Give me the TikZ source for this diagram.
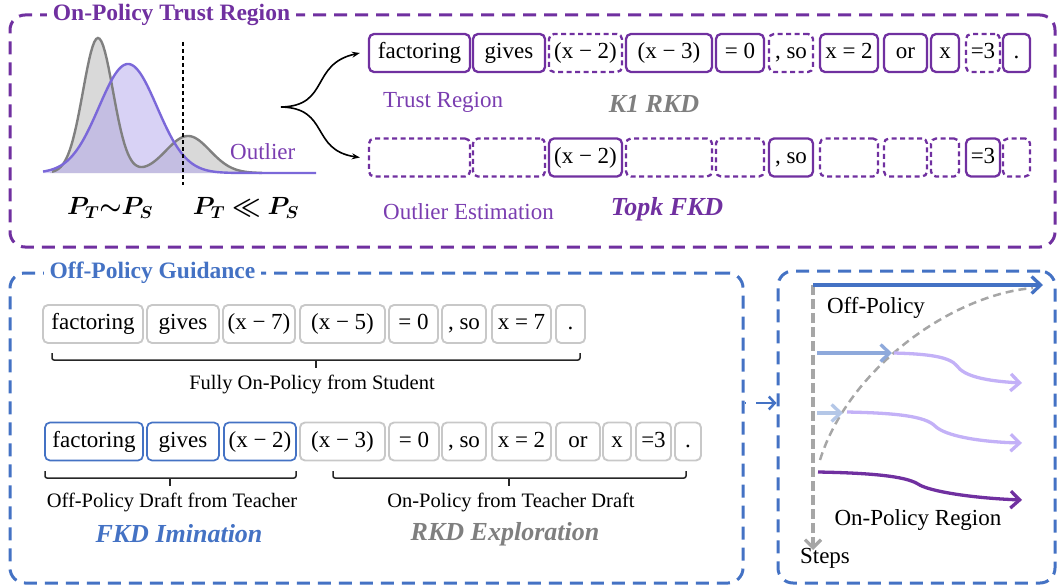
\documentclass[tikz,border=0pt]{standalone}
\usepackage{amsmath,bm}
\usepackage{fontspec}
\setmainfont{Liberation Serif}
\usetikzlibrary{arrows.meta}
\definecolor{pur}{HTML}{7030A0}
\definecolor{purtxt}{HTML}{7A3DB0}
\definecolor{blu}{HTML}{4472C4}
\definecolor{gbox}{HTML}{C8C8C8}
\definecolor{gtxt}{HTML}{7F7F7F}
\definecolor{curvep}{HTML}{7B68D9}
\definecolor{lblue}{HTML}{8EA9DB}
\definecolor{llblue}{HTML}{B4C7E7}
\definecolor{lpur}{HTML}{C3B1F7}
\definecolor{gfillc}{HTML}{D9D9D9}
\definecolor{pfillc}{HTML}{B1A5EB}
\definecolor{curveg}{HTML}{808080}
\newcommand{\tokfont}{\fontsize{23}{26}\selectfont}
\newcommand{\capfont}{\fontsize{20.5}{24}\selectfont}
\newcommand{\labfont}{\fontsize{23}{26}\selectfont}
\newcommand{\titfont}{\fontsize{23.5}{27}\selectfont\bfseries}
\newcommand{\bifont}{\fontsize{26}{30}\selectfont\bfseries\itshape}
\newcommand{\tk}[6]{\node[#5, minimum width={(#2-#1)*1pt}] (#6) at ({(#1+#2)/2},#3) {#4};}
\tikzset{
  tokbase/.style={rectangle, rounded corners=5pt, inner sep=0pt, minimum height=38pt, text height=15pt, text depth=4pt, font=\tokfont, text=black},
  ptok/.style={tokbase, draw=pur, line width=2.3pt},
  pdash/.style={ptok, dash pattern=on 5pt off 3.5pt},
  gtok/.style={tokbase, draw=gbox, line width=1.9pt},
  btok/.style={tokbase, draw=blu, line width=1.7pt},
  frame/.style={rectangle, rounded corners=15pt, line width=3pt, dash pattern=on 13pt off 8pt, inner sep=0pt},
  bracepath/.style={draw=black!85, line width=1.5pt, rounded corners=2pt},
  flow/.style={line width=3.3pt, -{Straight Barb[length=9pt,width=17pt]}},
}
\begin{document}
\begin{tikzpicture}[x=1pt,y=-1pt]
\useasboundingbox (0,0) rectangle (1057,586);
% frames
\node[frame, draw=pur, minimum width=1045pt, minimum height=232pt] (ftop) at (532.5,131) {};
\node[frame, draw=blu, minimum width=733pt, minimum height=310pt] (fleft) at (376.5,428) {};
\node[frame, draw=blu, minimum width=277pt, minimum height=312pt] (fright) at (916.5,427) {};
\node[fill=white, text=pur, font=\titfont, inner xsep=6pt, inner ysep=1pt] (ttop) at (171.5,15) {On-Policy Trust Region};
\node[fill=white, text=blu, font=\titfont, inner xsep=6pt, inner ysep=1pt] (tleft) at (152.5,273) {Off-Policy Guidance};

% distribution plot
\fill[gfillc] (50,173) -- plot[domain=50:262, samples=120] (\x, {173 - 135*exp(-min(((\x-98)/21.2)^2,12)) - 37*exp(-min(((\x-188)/31.1)^2,12))}) -- (262,173) -- cycle;
\fill[pfillc, fill opacity=0.5] (43,173) -- plot[domain=43:240, samples=120] (\x, {173 - 109*exp(-min(((\x-128)/41)^2,12))}) -- (240,173) -- cycle;
\draw[curveg, line width=2.4pt] plot[domain=52:262, samples=120] (\x, {173 - 135*exp(-min(((\x-98)/21.2)^2,12)) - 37*exp(-min(((\x-188)/31.1)^2,12))});
\draw[curvep, line width=2.4pt] plot[domain=43:240, samples=120] (\x, {173 - 109*exp(-min(((\x-128)/41)^2,12))}) -- (316,173);
\draw[black, line width=1.3pt, dash pattern=on 4pt off 3pt] (183,42) -- (183,185);
\node[text=purtxt, font=\labfont, anchor=west, inner sep=0pt] (outl) at (230,152) {Outlier};
\node[font=\fontsize{24.5}{29}\selectfont, inner sep=0pt] (pl) at (110,208) {$\bm{P_T{\sim}P_S}$};
\node[font=\fontsize{24.5}{29}\selectfont, inner sep=0pt] (pr) at (246,208) {$\bm{P_T \ll P_S}$};

% top row tokens
\tk{369}{470}{53}{factoring}{ptok}{a1}
\tk{473}{545}{53}{gives}{ptok}{a2}
\tk{549}{622}{53}{(x − 2)}{pdash}{a3}
\tk{626}{712}{53}{(x − 3)}{ptok}{a4}
\tk{716}{764}{53}{= 0}{ptok}{a5}
\tk{769}{813}{53}{, so}{pdash}{a6}
\tk{820}{878}{53}{x = 2}{ptok}{a7}
\tk{884}{927}{53}{or}{ptok}{a8}
\tk{931}{959}{53}{x}{ptok}{a9}
\tk{966}{1000}{53}{=3}{pdash}{a10}
\tk{1003}{1030}{53}{.}{ptok}{a11}
% second row tokens
\tk{369}{470}{157.5}{}{pdash}{b1}
\tk{473}{545}{157.5}{}{pdash}{b2}
\tk{549}{622}{157.5}{(x − 2)}{ptok}{b3}
\tk{626}{712}{157.5}{}{pdash}{b4}
\tk{716}{764}{157.5}{}{pdash}{b5}
\tk{769}{813}{157.5}{, so}{ptok}{b6}
\tk{820}{878}{157.5}{}{pdash}{b7}
\tk{884}{927}{157.5}{}{pdash}{b8}
\tk{931}{959}{157.5}{}{pdash}{b9}
\tk{966}{1000}{157.5}{=3}{ptok}{b10}
\tk{1003}{1030}{157.5}{}{pdash}{b11}

\node[text=purtxt, font=\labfont, anchor=west, inner sep=0pt] (trl) at (383,102) {Trust Region};
\node[text=gtxt, font=\bifont, inner sep=0pt] (k1) at (654,104) {K1 RKD};
\node[text=purtxt, font=\labfont, anchor=west, inner sep=0pt] (oel) at (383,212) {Outlier Estimation};
\node[text=pur, font=\bifont, inner sep=0pt] (topk) at (667,209) {Topk FKD};

% fork
\coordinate (fork) at (281,107);
\draw[black, line width=1.6pt, -{Stealth[length=8pt,width=6pt]}] (fork) .. controls (330,106) and (310,64) .. ([xshift=-8pt]a1.west);
\draw[black, line width=1.6pt, -{Stealth[length=8pt,width=6pt]}] (fork) .. controls (330,108) and (310,150) .. ([xshift=-8pt]b1.west);

% bottom first row
\tk{43}{143}{324}{factoring}{gtok}{c1}
\tk{147}{219}{324}{gives}{gtok}{c2}
\tk{223}{295}{324}{(x − 7)}{gtok}{c3}
\tk{300}{385}{324}{(x − 5)}{gtok}{c4}
\tk{389}{438}{324}{= 0}{gtok}{c5}
\tk{442}{486}{324}{, so}{gtok}{c6}
\tk{492}{551}{324}{x = 7}{gtok}{c7}
\tk{556}{585}{324}{.}{gtok}{c8}
\draw[bracepath] (52,353) -- (52,360) -- (580,360) -- (580,353);
\draw[bracepath] (316,360) -- (316,368);
\node[font=\capfont, inner sep=0pt] (cap1) at (312,384) {Fully On-Policy from Student};

% bottom second row
\tk{45}{143}{441.5}{factoring}{btok}{d1}
\tk{147}{219}{441.5}{gives}{btok}{d2}
\tk{224}{296}{441.5}{(x − 2)}{btok}{d3}
\tk{300}{385}{441.5}{(x − 3)}{gtok}{d4}
\tk{389}{439}{441.5}{= 0}{gtok}{d5}
\tk{442}{486}{441.5}{, so}{gtok}{d6}
\tk{492}{551}{441.5}{x = 2}{gtok}{d7}
\tk{556}{600}{441.5}{or}{gtok}{d8}
\tk{603}{631}{441.5}{x}{gtok}{d9}
\tk{636}{671}{441.5}{=3}{gtok}{d10}
\tk{675}{701}{441.5}{.}{gtok}{d11}
\draw[bracepath] (45,471) -- (45,478) -- (296,478) -- (296,471);
\draw[bracepath] (170,478) -- (170,486);
\draw[bracepath] (333,471) -- (333,478) -- (686,478) -- (686,471);
\draw[bracepath] (509,478) -- (509,486);
\node[font=\capfont, inner sep=0pt] (cap2) at (172,502) {Off-Policy Draft from Teacher};
\node[font=\capfont, inner sep=0pt] (cap3) at (511,502) {On-Policy from Teacher Draft};
\node[text=blu, font=\bifont, inner sep=0pt] (fkd) at (179,534) {FKD Imination};
\node[text=gtxt, font=\bifont, inner sep=0pt] (rkd) at (505,534) {RKD Exploration};

% arrow between bottom frames
\coordinate (lj) at (fleft.east |- 0,403);
\draw[blu, line width=2.5pt, dash pattern=on 1.5pt off 10pt on 30pt, -{Straight Barb[length=6pt,width=13pt]}] (lj) -- (fright.west |- lj);

% right frame content
\draw[black!35, line width=2.5pt, dash pattern=on 8pt off 5pt] (820,460) .. controls (848,370) and (950,295) .. (1033,288);
\draw[black!35, line width=3.3pt, dash pattern=on 10pt off 4pt, -{Straight Barb[length=8pt,width=16pt]}] (813,285) -- (813,550);
\node[font=\labfont, inner sep=0pt] (steps) at (825,558) {Steps};
\draw[blu, flow] (813,285) -- (1043,285);
\node[font=\labfont, inner sep=0pt] (offp) at (876,308) {Off-Policy};
\draw[lblue, flow] (817,353) -- (892,353);
\draw[lpur, flow] (894,353) .. controls (930,354) and (950,357) .. (957,366) .. controls (964,376) and (985,381) .. (1022,383);
\draw[llblue, flow] (817,413) -- (843,413);
\draw[lpur, flow] (847,412) .. controls (895,413) and (925,416) .. (935,426) .. controls (945,436) and (980,442) .. (1022,443);
\draw[pur, flow] (818,472) .. controls (870,473) and (905,476) .. (918,484) .. controls (928,491) and (970,498) .. (1022,500);
\node[font=\labfont, inner sep=0pt] (onr) at (918,520) {On-Policy Region};
\end{tikzpicture}
\end{document}
